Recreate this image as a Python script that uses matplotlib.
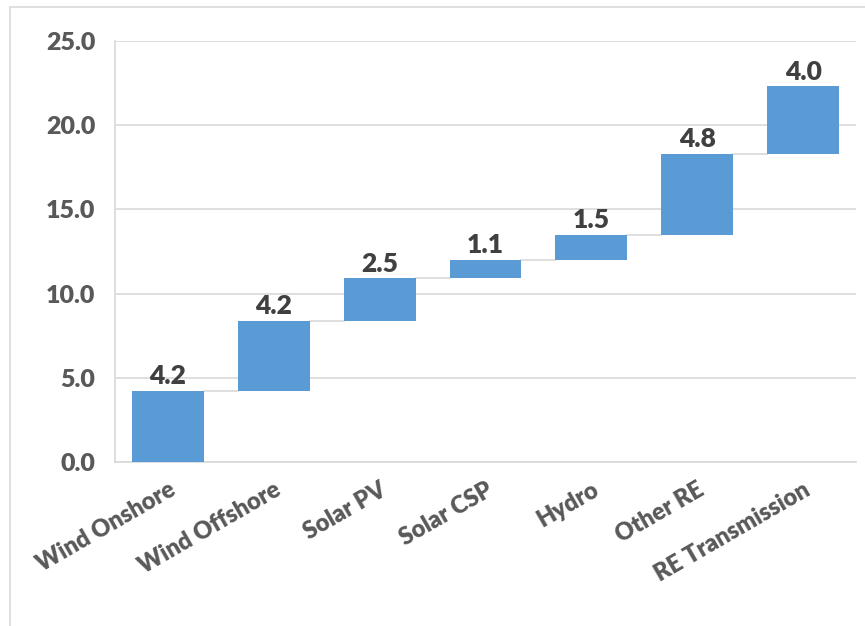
import numpy as np
import matplotlib.pyplot as plt
from matplotlib.patches import Rectangle

categories = ['Wind Onshore', 'Wind Offshore', 'Solar PV', 'Solar CSP',
              'Hydro', 'Other RE', 'RE Transmission']
values = [4.2, 4.2, 2.5, 1.1, 1.5, 4.8, 4.0]
yticks = [0, 5, 10, 15, 20, 25]

plt.rcParams['font.family'] = ['Lato', 'DejaVu Sans']

vals = np.array(values)
tops = np.cumsum(vals)
bottoms = tops - vals
x = np.arange(len(categories))
w = 0.68

fig = plt.figure(figsize=(8.65, 6.26), dpi=100)
fig.patches.append(Rectangle((10/865, -0.1), 1.2, 1.1 - 7/626,
                             transform=fig.transFigure, fill=False,
                             edgecolor='#d9d9d9', linewidth=1.2))
ax = fig.add_axes([115/865, 1 - 462/626, (856 - 115)/865, (462 - 41)/626])

ax.bar(x, vals, w, bottom=bottoms, color='#5b9bd5', zorder=3)

# connectors between bars
for i in range(len(x) - 1):
    ax.plot([x[i] + w/2, x[i+1] - w/2], [tops[i], tops[i]],
            color='#d9d9d9', linewidth=1.2, zorder=2)

for xi, t, v in zip(x, tops, vals):
    ax.annotate(f'{v:.1f}', (xi, t), xytext=(0, 2), textcoords='offset points',
                ha='center', va='bottom', fontsize=19, fontweight='heavy',
                color='#404040')

ax.set_xlim(-0.5, len(x) - 0.5)
ax.set_ylim(0, 25)
ax.set_yticks(yticks)
ax.set_yticklabels([f'{t:.1f}' for t in yticks])
ax.yaxis.grid(True, color='#d9d9d9', linewidth=1.2, zorder=0)
ax.set_axisbelow(True)
ax.tick_params(axis='y', length=0, pad=14, labelsize=18, labelcolor='#595959')
ax.tick_params(axis='x', length=0, pad=12, labelsize=17, labelcolor='#595959')
for lab in ax.get_yticklabels():
    lab.set_fontweight('heavy')
ax.set_xticks(x)
ax.set_xticklabels(categories, rotation=30, ha='right', rotation_mode='anchor',
                   fontweight='heavy')

for s in ['top', 'right']:
    ax.spines[s].set_visible(False)
ax.spines['left'].set_color('#d9d9d9')
ax.spines['bottom'].set_color('#d9d9d9')
ax.spines['left'].set_linewidth(1.2)
ax.spines['bottom'].set_linewidth(1.2)

fig.savefig('out.png', dpi=100)
